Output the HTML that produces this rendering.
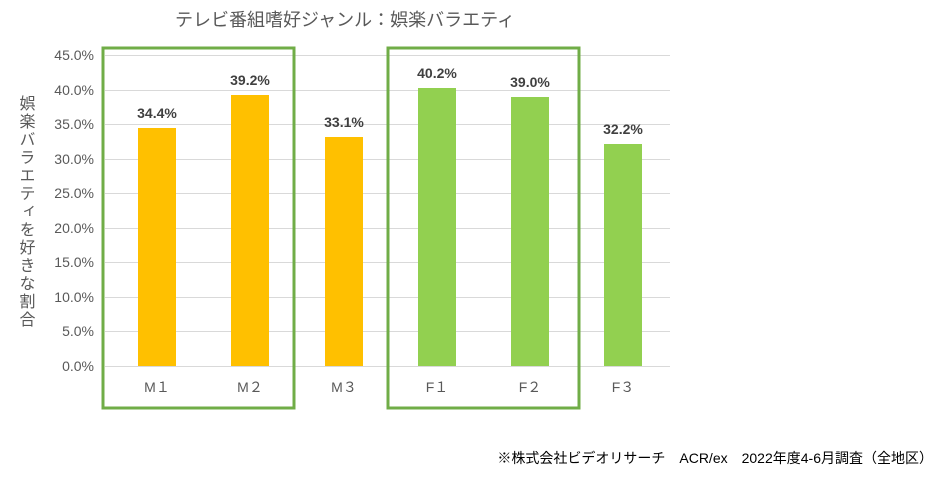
<!DOCTYPE html>
<html><head><meta charset="utf-8"><style>
body{margin:0;background:#fff;width:945px;height:478px;overflow:hidden;font-family:"Liberation Sans","Noto Sans CJK JP",sans-serif;}
</style></head><body>
<svg width="945" height="478" xmlns="http://www.w3.org/2000/svg" font-family="Liberation Sans, Noto Sans CJK JP, sans-serif">
<rect width="945" height="478" fill="#fff"/>
<text x="345" y="26" font-size="18" fill="#595959" text-anchor="middle">テレビ番組嗜好ジャンル：娯楽バラエティ</text>
<g stroke="#d9d9d9" stroke-width="1">
<line x1="105" x2="670" y1="55.5" y2="55.5"/><line x1="105" x2="670" y1="90.5" y2="90.5"/>
<line x1="105" x2="670" y1="124.5" y2="124.5"/><line x1="105" x2="670" y1="159.5" y2="159.5"/>
<line x1="105" x2="670" y1="193.5" y2="193.5"/><line x1="105" x2="670" y1="228.5" y2="228.5"/>
<line x1="105" x2="670" y1="262.5" y2="262.5"/><line x1="105" x2="670" y1="297.5" y2="297.5"/>
<line x1="105" x2="670" y1="331.5" y2="331.5"/><line x1="105" x2="670" y1="366.5" y2="366.5"/>
</g>
<g font-size="14" fill="#595959" text-anchor="end">
<text x="94" y="60">45.0%</text><text x="94" y="95">40.0%</text><text x="94" y="129">35.0%</text>
<text x="94" y="164">30.0%</text><text x="94" y="198">25.0%</text><text x="94" y="233">20.0%</text>
<text x="94" y="267">15.0%</text><text x="94" y="302">10.0%</text><text x="94" y="336">5.0%</text>
<text x="94" y="371">0.0%</text>
</g>
<g fill="#FFC000">
<rect x="138" y="128" width="38" height="238"/>
<rect x="231" y="95" width="38" height="271"/>
<rect x="325" y="137" width="38" height="229"/>
</g>
<g fill="#92D050">
<rect x="418" y="88" width="38" height="278"/>
<rect x="511" y="97" width="38" height="269"/>
<rect x="604" y="144" width="38" height="222"/>
</g>
<g font-size="14" font-weight="bold" fill="#404040" text-anchor="middle">
<text x="157" y="118">34.4%</text><text x="250" y="85">39.2%</text><text x="344" y="127">33.1%</text>
<text x="437" y="78">40.2%</text><text x="530" y="87">39.0%</text><text x="623" y="134">32.2%</text>
</g>
<g font-size="14" fill="#595959" text-anchor="middle">
<text x="157" y="392">M１</text><text x="250" y="392">M２</text><text x="344" y="392">M３</text>
<text x="437" y="392">F１</text><text x="530" y="392">F２</text><text x="623" y="392">F３</text>
</g>
<rect x="103" y="48" width="191" height="360" fill="none" stroke="#70AD47" stroke-width="3"/>
<rect x="388" y="48" width="191" height="360" fill="none" stroke="#70AD47" stroke-width="3"/>
<text font-size="16" fill="#595959" x="25" y="95" style="writing-mode:vertical-rl" letter-spacing="2">娯楽バラエティを好きな割合</text>
<text x="933" y="463" font-size="14" fill="#000" text-anchor="end">※株式会社ビデオリサーチ　ACR/ex　2022年度4-6月調査（全地区）</text>
</svg>
</body></html>
